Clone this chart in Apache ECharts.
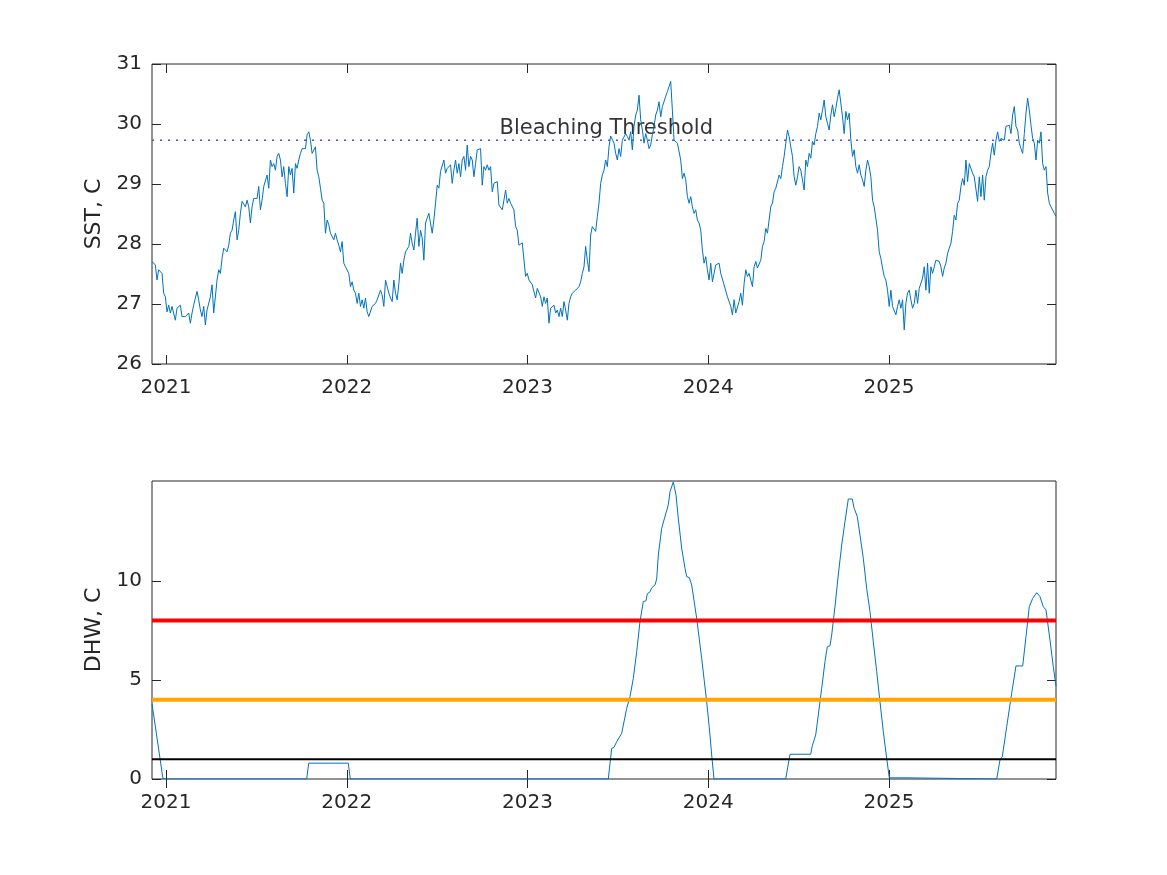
<!DOCTYPE html>
<html><head><meta charset="utf-8">
<script src="https://cdn.jsdelivr.net/npm/echarts@6/dist/echarts.min.js"></script>
<style>html,body{margin:0;padding:0;background:#fff}#c{width:1167px;height:875px}</style>
</head><body><div id="c"></div>
<script>
// ---- data ----
const yearTicks = [2021, 2022, 2023, 2024, 2025];
const sstTicks = [26, 27, 28, 29, 30, 31];
const dhwTicks = [0, 5, 10];
const sstStart = 2020.9225, sstEnd = 2025.924;   // decimal years of first/last SST sample
const sst = [
27.71,27.68,27.65,27.40,27.57,27.54,27.51,27.18,27.12,26.87,
26.98,26.85,26.96,26.96,26.73,26.93,26.96,26.98,26.79,26.76,
26.79,26.76,26.85,26.68,26.85,26.98,27.10,27.21,27.07,26.90,
26.79,26.96,26.65,26.90,26.93,27.12,27.32,26.85,26.87,27.40,
27.57,27.51,27.76,27.93,27.93,27.87,27.98,28.18,28.23,28.40,
28.54,28.07,28.23,28.51,28.71,28.73,28.62,28.73,28.62,28.35,
28.62,28.76,28.73,28.76,28.96,28.57,28.73,28.96,28.98,29.15,
28.93,29.40,29.29,29.34,29.23,29.46,29.51,29.40,29.12,29.29,
29.01,28.79,29.29,29.15,29.26,28.85,29.34,29.26,29.40,29.51,
29.59,29.57,29.59,29.82,29.87,29.73,29.51,29.54,29.62,29.23,
29.12,28.93,28.73,28.68,28.18,28.40,28.32,28.18,28.21,28.07,
28.18,28.07,27.98,27.87,28.04,27.68,27.62,27.62,27.51,27.29,
27.37,27.23,27.18,27.01,27.18,26.96,27.07,26.93,27.10,26.87,
26.79,26.76,26.96,26.98,27.01,27.07,27.04,27.23,27.15,26.96,
27.40,27.43,27.18,27.10,27.04,27.40,27.18,27.07,27.34,27.68,
27.51,27.73,27.87,27.90,27.96,28.18,28.01,27.90,28.18,28.43,
27.96,28.23,28.10,27.73,28.35,28.43,28.51,28.54,28.18,28.40,
28.68,28.98,28.93,29.21,29.23,29.40,29.18,29.26,29.29,29.32,
29.01,29.23,29.40,29.18,29.34,29.12,29.40,29.46,29.23,29.65,
29.29,29.46,29.40,29.12,29.34,29.57,29.59,29.59,28.98,29.29,
29.23,29.32,29.23,29.29,28.87,29.01,28.98,29.04,28.65,28.68,
28.57,28.73,28.90,28.68,28.76,28.68,28.71,28.57,28.29,28.23,
27.98,
28.01,28.02,28.04,27.46,27.51,27.40,27.40,27.32,27.29,27.10,
27.26,27.23,27.12,26.96,27.12,27.01,27.10,26.68,26.93,26.90,
26.98,26.85,26.90,26.79,26.93,26.79,27.04,26.90,26.73,27.01,
27.12,27.18,27.18,27.23,27.21,27.29,27.37,27.51,27.62,27.96,
27.73,27.54,28.15,28.29,28.26,28.21,28.46,28.68,29.01,29.15,
29.23,29.40,29.29,29.62,29.80,29.79,29.68,29.51,29.40,29.59,
29.46,29.73,29.76,29.84,29.79,29.73,29.87,29.57,29.96,30.15,
30.23,30.48,30.07,29.90,29.68,29.84,29.73,29.59,29.65,29.82,
29.96,30.15,30.23,30.37,30.12,30.29,30.26,30.46,30.54,30.57,
30.71,30.23,29.73,29.71,29.68,29.65,29.40,29.09,29.18,29.07,
28.79,28.68,28.79,28.62,28.51,28.57,28.40,28.35,28.23,27.90,
27.68,
27.79,27.57,27.40,27.68,27.37,27.51,27.65,27.62,27.68,27.51,
27.54,27.32,27.29,27.12,27.10,26.96,26.82,27.07,26.85,26.87,
27.04,27.18,26.98,27.34,27.57,27.46,27.51,27.40,27.29,27.62,
27.71,27.60,27.57,27.73,27.96,28.04,28.26,28.18,28.40,28.62,
28.68,28.87,28.93,28.90,29.15,29.09,29.29,29.46,29.68,29.90,
29.79,29.62,29.46,29.12,28.98,29.12,29.29,29.23,29.26,28.90,
29.40,29.29,29.51,29.43,29.71,29.65,29.84,29.96,30.18,30.07,
30.23,30.40,30.12,30.01,29.90,30.15,30.32,30.12,30.26,30.43,
30.57,30.54,30.12,29.84,30.21,30.07,30.18,29.73,29.46,29.57,
29.29,29.18,29.32,29.15,29.07,28.96,29.23,29.40,29.29,29.12,
28.73,28.62,28.62,28.23,27.87,27.76,27.60,27.46,
27.40,27.23,26.96,27.23,26.96,26.93,26.82,26.96,27.07,26.93,
27.07,26.57,27.01,27.18,27.23,27.07,26.93,27.01,27.23,27.01,
27.26,27.26,27.43,27.62,27.23,27.68,27.18,27.62,27.51,27.62,
27.73,27.76,27.71,27.62,27.46,27.60,27.68,27.84,27.93,28.01,
28.21,28.48,28.40,28.68,28.73,28.96,29.09,28.98,29.40,29.04,
29.34,29.37,29.18,29.12,29.09,28.71,29.12,28.79,29.15,28.73,
29.12,29.23,29.29,29.51,29.68,29.48,29.73,29.87,29.71,29.76,
29.76,29.73,29.96,29.93,29.98,29.84,30.15,30.29,29.96,29.90,
29.68,29.59,29.51,29.84,30.18,30.43,30.23,29.98,29.76,29.68,
29.40,29.73,29.68,29.87,29.34,29.23,29.29,28.85,28.68,28.62,
28.60,28.51,28.46
];
const dhwYear = [
2020.9225,2020.9834,2021.7784,2021.7895,2022.0086,2022.0196,
2023.4470,2023.4658,2023.4786,2023.4935,2023.5212,2023.5488,2023.5671,2023.5853,2023.6041,2023.6224,
2023.6407,2023.6556,2023.6628,2023.6777,2023.6869,2023.7054,2023.7148,2023.7237,2023.7425,2023.7552,
2023.7790,2023.7884,2023.8066,2023.8216,2023.8343,2023.8531,2023.8714,2023.8807,2023.8951,2023.9084,
2023.9361,2023.9637,2023.9914,2024.0097,2024.0191,2024.0318,
2024.4285,2024.4523,2024.5668,2024.5757,2024.5945,2024.6089,2024.6277,2024.6459,2024.6587,2024.6736,
2024.6830,2024.7012,2024.7195,2024.7383,2024.7566,2024.7749,2024.7970,2024.8064,2024.8246,2024.8396,
2024.8578,2024.8766,2024.8949,2024.9131,2024.9320,2024.9502,2024.9685,2024.9873,2025.0017,2025.0941,
2025.0996,2025.5958,2025.6141,2025.6268,2025.6512,2025.6788,2025.7026,2025.7397,2025.7580,2025.7762,
2025.7950,2025.8171,2025.8260,2025.8354,2025.8537,2025.8686,2025.8907,2025.9090,2025.9239
];
const dhw = [
3.8,0,0,0.8,0.8,0,
0,1.55,1.6,1.88,2.31,3.57,4.16,5.08,6.43,7.95,
8.96,9.0,9.35,9.45,9.65,9.8,10.1,11.31,12.66,13.08,
13.84,14.51,15.0,14.34,13.17,11.65,10.64,10.22,10.17,9.80,
8.11,6.09,3.90,2.22,1.21,0,
0,1.25,1.25,1.68,2.22,3.23,4.58,5.93,6.68,6.73,
7.27,8.70,10.30,11.82,13.0,14.14,14.14,13.70,13.25,12.32,
11.15,9.63,8.45,6.94,5.42,3.90,2.39,1.04,0.06,0.06,
0,0,0.96,1.13,2.64,4.33,5.71,5.71,7.19,8.70,
9.12,9.41,9.35,9.21,8.70,8.54,7.02,5.67,4.7
];
const bleachingThreshold = 29.73;
const thresholdLabel = 'Bleaching Threshold';
const thresholdLabelAt = [2022.834, 29.92];
const alertLevel2 = 8, alertLevel1 = 4, watchLevel = 1;
const dhwMax = 15.05;

// ---- build ----
const FONT = 'DejaVu Sans';
const AX = '#262626';
const sstData = sst.map((v, i) => [sstStart + i * (sstEnd - sstStart) / (sst.length - 1), v]);
const dhwData = dhwYear.map((x, i) => [x, dhw[i]]);
const hline = v => [[sstStart, v], [sstEnd, v]];

function xAx(grid, pos, labels) {
  return {
    type: 'value', gridIndex: grid, position: pos, min: sstStart, max: sstEnd,
    axisLine: { show: false },
    axisTick: { show: true, inside: true, length: 9, customValues: yearTicks, lineStyle: { color: AX, width: 1 } },
    axisLabel: { show: labels, customValues: yearTicks, margin: 14, color: AX, fontFamily: FONT, fontSize: 20,
      formatter: v => String(Math.round(v)) },
    splitLine: { show: false }
  };
}
function yAx(grid, pos, min, max, ticks, labels, name) {
  return {
    type: 'value', gridIndex: grid, position: pos, min: min, max: max,
    axisLine: { show: false },
    axisTick: { show: true, inside: true, length: 9, customValues: ticks, lineStyle: { color: AX, width: 1 } },
    axisLabel: { show: labels, customValues: ticks, margin: 10, color: AX, fontFamily: FONT, fontSize: 20 },
    splitLine: { show: false },
    name: name || '', nameLocation: 'middle', nameGap: 42, nameRotate: 90,
    nameTextStyle: { color: AX, fontFamily: FONT, fontSize: 22 }
  };
}

const chart = echarts.init(document.getElementById('c'), null, { renderer: 'canvas' });
chart.setOption({
  animation: false,
  backgroundColor: '#ffffff',
  grid: [
    { left: 152, top: 64, width: 904, height: 300, show: true, borderColor: AX, borderWidth: 1, backgroundColor: '#fff' },
    { left: 152, top: 481, width: 904, height: 298, show: true, borderColor: AX, borderWidth: 1, backgroundColor: '#fff' }
  ],
  xAxis: [xAx(0, 'bottom', true), xAx(0, 'top', false), xAx(1, 'bottom', true), xAx(1, 'top', false)],
  yAxis: [
    yAx(0, 'left', 26, 31, sstTicks, true, 'SST, C'),
    yAx(0, 'right', 26, 31, sstTicks, false),
    yAx(1, 'left', 0, dhwMax, dhwTicks, true, 'DHW, C'),
    yAx(1, 'right', 0, dhwMax, dhwTicks, false)
  ],
  series: [
    { type: 'scatter', xAxisIndex: 0, yAxisIndex: 0, data: [thresholdLabelAt], symbolSize: 0, z: 1,
      label: { show: true, position: 'right', distance: 2, formatter: thresholdLabel, color: '#000', fontFamily: FONT, fontSize: 21 } },
    { type: 'line', xAxisIndex: 0, yAxisIndex: 0, data: hline(bleachingThreshold), showSymbol: false, z: 2,
      lineStyle: { color: '#4d4dff', width: 1.5, type: [2, 6] } },
    { type: 'line', xAxisIndex: 0, yAxisIndex: 0, data: sstData, showSymbol: false, z: 3,
      lineStyle: { color: '#0072BD', width: 1 } },
    { type: 'line', xAxisIndex: 2, yAxisIndex: 2, data: dhwData, showSymbol: false, z: 2,
      lineStyle: { color: '#0072BD', width: 1 } },
    { type: 'line', xAxisIndex: 2, yAxisIndex: 2, data: hline(alertLevel2), showSymbol: false, z: 3,
      lineStyle: { color: '#ff0000', width: 4 } },
    { type: 'line', xAxisIndex: 2, yAxisIndex: 2, data: hline(alertLevel1), showSymbol: false, z: 3,
      lineStyle: { color: '#ffa500', width: 4 } },
    { type: 'line', xAxisIndex: 2, yAxisIndex: 2, data: hline(watchLevel), showSymbol: false, z: 3,
      lineStyle: { color: '#000000', width: 2 } }
  ]
});
</script></body></html>
